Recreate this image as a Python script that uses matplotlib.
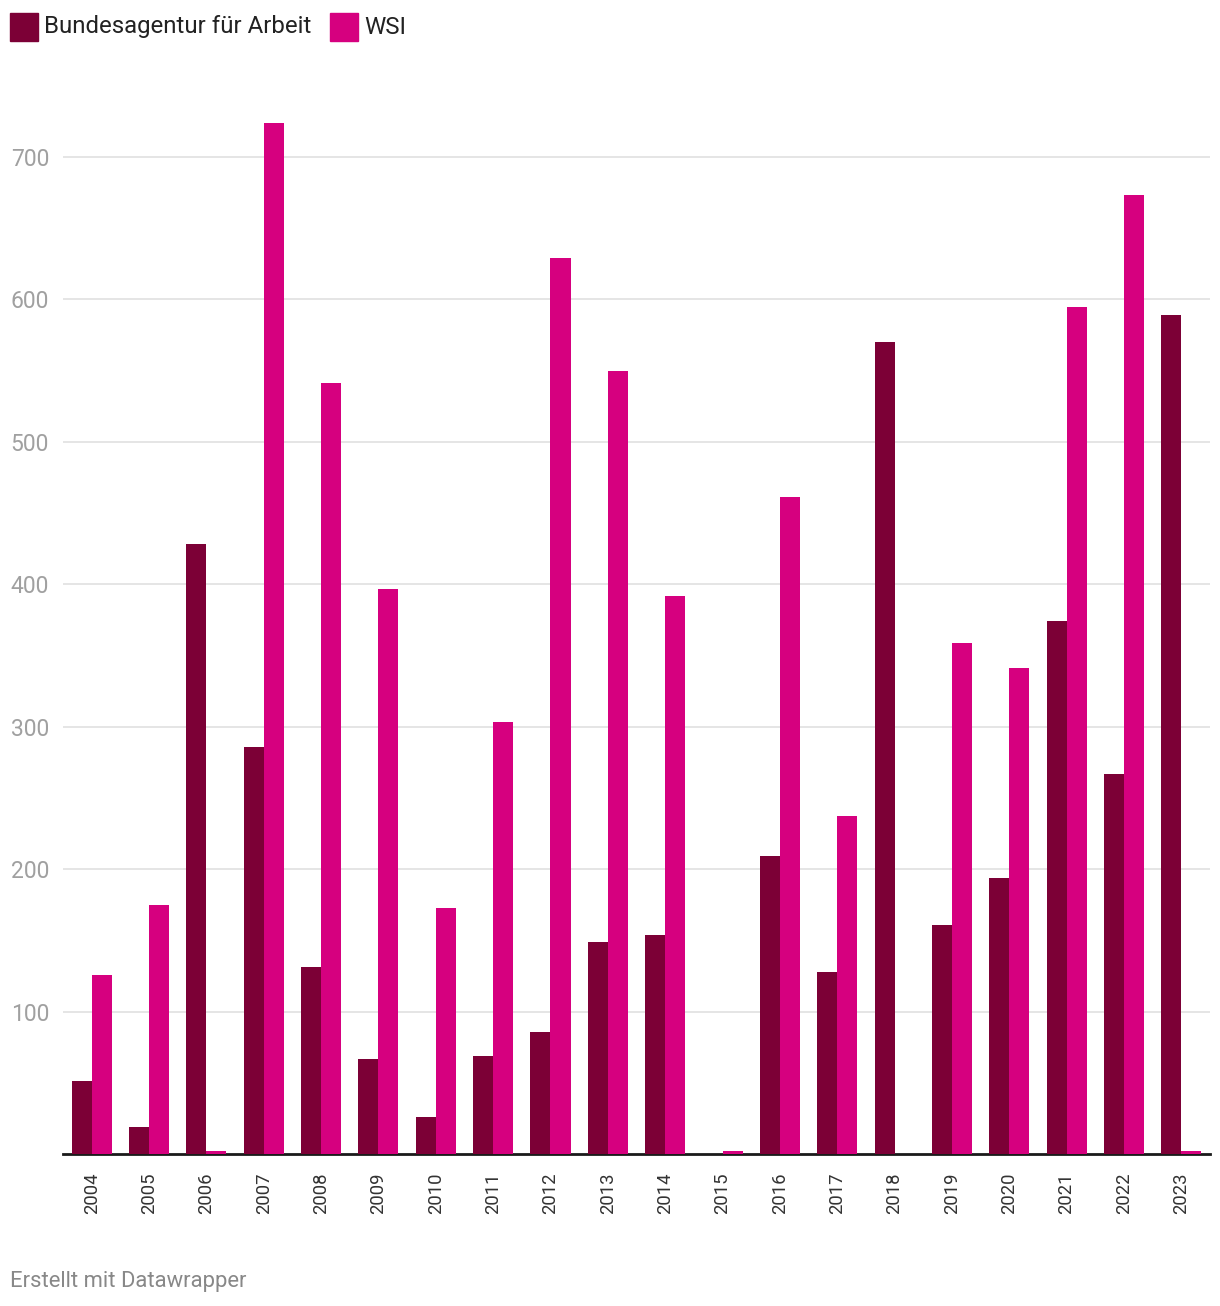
import matplotlib
matplotlib.use("Agg")
import matplotlib.pyplot as plt
import numpy as np
from matplotlib.patches import Rectangle

plt.rcParams['font.family'] = ['Roboto', 'DejaVu Sans']

years = ["2004", "2005", "2006", "2007", "2008", "2009", "2010", "2011", "2012", "2013",
         "2014", "2015", "2016", "2017", "2018", "2019", "2020", "2021", "2022", "2023"]
ba = [51, 19, 428, 286, 131, 67, 26, 69, 86, 149,
      154, 0, 209, 128, 570, 161, 194, 374, 267, 589]
wsi = [126, 175, 2, 724, 541, 397, 173, 303, 629, 550,
       392, 2, 461, 237, 0, 359, 341, 595, 673, 2]
series_names = ["Bundesagentur für Arbeit", "WSI"]
colors = ["#7c0036", "#d6007f"]
yticks = [100, 200, 300, 400, 500, 600, 700]

W, H = 1220, 1306
fig = plt.figure(figsize=(W / 100, H / 100), dpi=100)
ax = fig.add_axes([63 / W, 1 - 1154 / H, 1147 / W, 1054 / H])

x = np.arange(len(years))
bw = 0.35
ax.bar(x - bw / 2, ba, width=bw, color=colors[0], align='center', linewidth=0, zorder=3)
ax.bar(x + bw / 2, wsi, width=bw, color=colors[1], align='center', linewidth=0, zorder=3)

ax.set_xlim(-0.5, len(years) - 0.5)
ax.set_ylim(0, 740)
ax.set_yticks(yticks)
ax.set_yticklabels([str(t) for t in yticks], color="#a0a0a0", fontsize=16.5)
ax.tick_params(axis='y', length=0, pad=10)
ax.yaxis.grid(True, color="#e3e3e3", linewidth=1.3)
ax.set_axisbelow(True)
ax.set_xticks(x)
ax.set_xticklabels(years, rotation=90, fontsize=13.3, color="#333333")
ax.tick_params(axis='x', length=0, pad=13.5)
for s in ['top', 'right', 'left']:
    ax.spines[s].set_visible(False)
ax.spines['bottom'].set_color("#1a1a1a")
ax.spines['bottom'].set_linewidth(2)
ax.spines['bottom'].set_zorder(2.5)

# legend
lx = 10
for name, c in zip(series_names, colors):
    fig.patches.append(Rectangle((lx / W, 1 - 41 / H), 28 / W, 28 / H,
                                 transform=fig.transFigure, color=c, figure=fig))
    t = fig.text((lx + 34) / W, 1 - 27 / H, name, fontsize=17.3, color="#222222",
                 va='center', ha='left')
    fig.canvas.draw()
    bb = t.get_window_extent()
    lx = bb.x1 + 19

fig.text(10 / W, 1 - 1281 / H, "Erstellt mit Datawrapper", fontsize=15.8,
         color="#888888", va='center', ha='left')

fig.savefig("out.png", dpi=100)
